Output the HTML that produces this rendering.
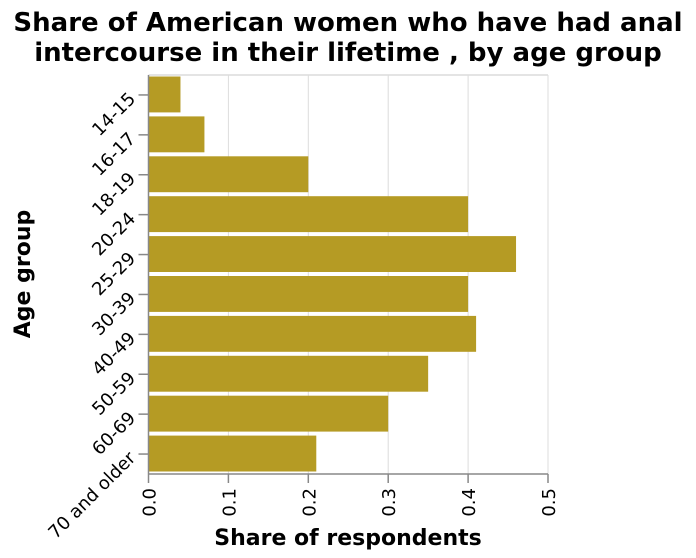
<!DOCTYPE html>
<html><head><meta charset="utf-8"><style>
body{margin:0;background:#fff;}
svg{display:block;font-family:"DejaVu Sans","Liberation Sans",sans-serif;}
</style></head><body>
<svg id="chart" width="696" height="558">
<text x="348" y="31" text-anchor="middle" font-size="26" font-weight="bold"><tspan x="348">Share of American women who have had anal</tspan><tspan x="348" dy="30">intercourse in their lifetime , by age group</tspan></text>
<g id="grid"></g><g id="bars"></g><g id="axes"></g>
<text x="348" y="545" text-anchor="middle" font-size="22" font-weight="bold">Share of respondents</text>
<text transform="translate(30,274) rotate(-90)" text-anchor="middle" font-size="22" font-weight="bold">Age group</text>
</svg>
<script>
const categories=["14-15","16-17","18-19","20-24","25-29","30-39","40-49","50-59","60-69","70 and older"];
const values=[0.04,0.07,0.20,0.40,0.46,0.40,0.41,0.35,0.30,0.21];
const xTicks=[0,0.1,0.2,0.3,0.4,0.5];
const xTickLabels=["0.0","0.1","0.2","0.3","0.4","0.5"];
const NS="http://www.w3.org/2000/svg";
const L=148.5,R=548,T=75,B=474;
const band=(B-T)/categories.length;
function xs(v){return L+(v/0.5)*(R-L);}
function ys(i){return T+i*band;}
function mk(p,t,a){const e=document.createElementNS(NS,t);for(const k in a)e.setAttribute(k,a[k]);document.getElementById(p).appendChild(e);return e;}
xTicks.forEach((v,i)=>{
 if(i>0){const g=mk('grid','line',{x1:xs(v),x2:xs(v),y1:T,y2:B,stroke:'#dcdcdc','stroke-width':1});
 
 }
 const tk=mk('axes','line',{x1:xs(v),x2:xs(v),y1:B,y2:B+9,stroke:'#888','stroke-width':1.5});
 
 
 const tx=mk('axes','text',{transform:`translate(${xs(v)+7},${B+14}) rotate(-90)`,'text-anchor':'end','font-size':18});
 tx.textContent=xTickLabels[i];
 
 
});
mk('grid','line',{x1:L,x2:R,y1:T,y2:T,stroke:'#dcdcdc','stroke-width':1.5});
categories.forEach((c,i)=>{
 const y=ys(i);
 const b=mk('bars','rect',{x:L,y:y+1.5,width:xs(values[i])-L,height:band-4,fill:'#b59b24'});
 
 
 const cy=y+band/2;
 const tk=mk('axes','line',{x1:L-10,x2:L,y1:cy,y2:cy,stroke:'#888','stroke-width':1.5});
 
 
 const tx=mk('axes','text',{transform:`translate(${L-12},${cy+5}) rotate(-45)`,'text-anchor':'end','font-size':18});
 tx.textContent=c;
 
 
});
const ax=mk('axes','line',{x1:L,x2:L,y1:T,y2:B,stroke:'#888','stroke-width':1.5});


const bx=mk('axes','line',{x1:L,x2:R,y1:B,y2:B,stroke:'#888','stroke-width':1.5});


</script>
</body></html>
